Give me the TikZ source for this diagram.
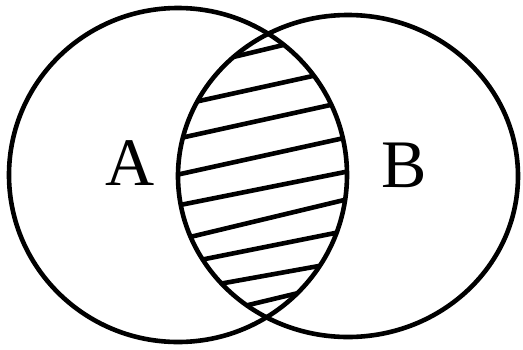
\documentclass[tikz,border=0pt]{standalone}
\usepackage{fontspec}
\setmainfont{Liberation Serif}
\begin{document}
\begin{tikzpicture}[x=1pt,y=-1pt,
  ring/.style={line width=4.6pt,black},
  hatch/.style={line width=4.6pt,black},
  lab/.style={font=\fontsize{68}{68}\selectfont,inner sep=0pt}]
\useasboundingbox (0,0) rectangle (523,349);
\begin{scope}
  \clip (178,175) ellipse [x radius=169, y radius=167];
  \clip (348,176) ellipse [x radius=170, y radius=161];
  \foreach \yc/\s in {49.4/-0.24, 86.5/-0.22, 119.4/-0.22, 155.4/-0.22, 188/-0.20, 219/-0.24, 247/-0.20, 275.7/-0.18, 301/-0.24}{
    \draw[hatch] (150,{\yc+\s*(150-265)}) -- (380,{\yc+\s*(380-265)});
  }
\end{scope}
\draw[ring] (178,175) ellipse [x radius=169, y radius=167];
\draw[ring] (348,176) ellipse [x radius=170, y radius=161];
\node[lab] (la) at (130,163) {A};
\node[lab] (lb) at (404,165) {B};
\end{tikzpicture}
\end{document}
